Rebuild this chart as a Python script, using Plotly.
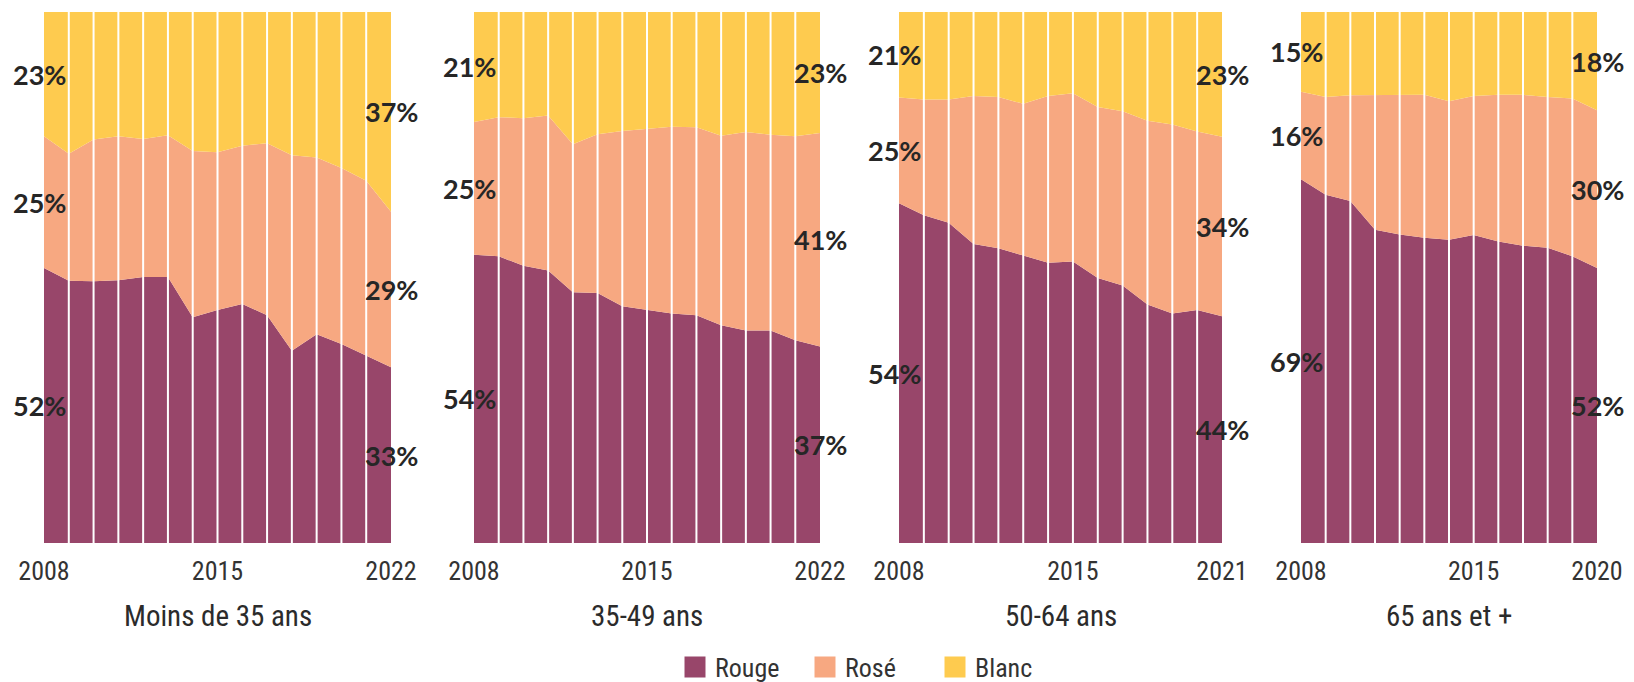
import plotly.graph_objects as go

# ---------------- data (shares in %) ----------------
panel_titles = ["Moins de 35 ans", "35-49 ans", "50-64 ans", "65 ans et +"]
series_names = ["Rouge", "Rosé", "Blanc"]

years_1 = list(range(2008, 2023))
rouge_1 = [51.8, 49.4, 49.3, 49.5, 50.1, 50.1, 42.5, 43.9, 45.0, 42.9, 36.2, 39.3, 37.5, 35.3, 33.1]
rose_1 = [24.8, 23.9, 26.7, 27.1, 26.0, 26.7, 31.3, 29.7, 29.8, 32.4, 36.8, 33.3, 33.1, 32.9, 29.3]
blanc_1 = [23.4, 26.7, 24.0, 23.4, 23.9, 23.2, 26.2, 26.4, 25.2, 24.7, 27.0, 27.4, 29.4, 31.8, 37.6]

years_2 = list(range(2008, 2023))
rouge_2 = [54.3, 54.0, 52.2, 51.3, 47.2, 47.1, 44.6, 43.9, 43.2, 42.9, 41.0, 40.0, 40.0, 38.2, 37.0]
rose_2 = [25.0, 26.2, 27.8, 29.2, 27.9, 29.9, 33.0, 34.1, 35.2, 35.4, 35.7, 37.4, 36.9, 38.4, 40.2]
blanc_2 = [20.7, 19.8, 20.0, 19.5, 24.9, 23.0, 22.4, 22.0, 21.6, 21.7, 23.3, 22.6, 23.1, 23.4, 22.8]

years_3 = list(range(2008, 2022))
rouge_3 = [64.0, 61.7, 60.3, 56.3, 55.5, 54.2, 52.8, 53.0, 49.9, 48.5, 44.9, 43.2, 43.9, 42.7]
rose_3 = [19.9, 21.8, 23.2, 27.9, 28.5, 28.5, 31.4, 31.7, 32.2, 32.8, 34.6, 35.6, 33.6, 33.8]
blanc_3 = [16.1, 16.5, 16.5, 15.8, 16.0, 17.3, 15.8, 15.3, 17.9, 18.7, 20.5, 21.2, 22.5, 23.5]

years_4 = list(range(2008, 2021))
rouge_4 = [68.5, 65.6, 64.4, 59.0, 58.1, 57.5, 57.1, 58.0, 56.8, 56.0, 55.6, 54.0, 51.8]
rose_4 = [16.5, 18.4, 19.9, 25.3, 26.2, 26.9, 26.1, 26.2, 27.6, 28.4, 28.4, 29.7, 29.7]
blanc_4 = [15.0, 16.0, 15.7, 15.7, 15.7, 15.6, 16.8, 15.8, 15.6, 15.6, 16.0, 16.3, 18.5]

# printed labels (Rouge, Rosé, Blanc) for first and last year
first_labels = [["52%", "25%", "23%"], ["54%", "25%", "21%"], ["54%", "25%", "21%"], ["69%", "16%", "15%"]]
last_labels = [["33%", "29%", "37%"], ["37%", "41%", "23%"], ["44%", "34%", "23%"], ["52%", "30%", "18%"]]

panels = [
    (years_1, rouge_1, rose_1, blanc_1),
    (years_2, rouge_2, rose_2, blanc_2),
    (years_3, rouge_3, rose_3, blanc_3),
    (years_4, rouge_4, rose_4, blanc_4),
]

# ---------------- style ----------------
colors = ["#98466A", "#F7A881", "#FECB4F"]
W, H = 1634, 682
x_px = [(44, 391), (474, 820), (899, 1222), (1301, 1597)]
top_px, bot_px = 12, 543
cond_font = "Liberation Sans Narrow, Roboto Condensed, Arial Narrow, DejaVu Sans Condensed, sans-serif"
label_font = "Lato, Roboto, sans-serif"

fig = go.Figure()
layout = dict(
    width=W, height=H,
    margin=dict(l=0, r=0, t=0, b=0, autoexpand=False),
    paper_bgcolor="white", plot_bgcolor="white",
    showlegend=True,
)
shapes = []
annotations = []

for i, (yrs, r, ro, b) in enumerate(panels):
    n = i + 1
    xa = "x" if n == 1 else f"x{n}"
    ya = "y" if n == 1 else f"y{n}"
    for s, vals in enumerate([r, ro, b]):
        fig.add_trace(go.Scatter(
            x=yrs, y=vals, mode="lines", stackgroup=f"g{n}",
            line=dict(width=0, color=colors[s]), fillcolor=colors[s],
            name=series_names[s], showlegend=False, hoverinfo="skip",
            xaxis=xa, yaxis=ya,
        ))
    x0, x1 = x_px[i]
    layout[f"xaxis{'' if n == 1 else n}"] = dict(
        domain=[x0 / W, x1 / W], anchor=ya, range=[yrs[0], yrs[-1]],
        tickvals=[yrs[0], 2015, yrs[-1]], ticktext=[str(yrs[0]), "2015", str(yrs[-1])],
        showgrid=False, zeroline=False, showline=False, ticks="",
        ticklabelstandoff=10,
        tickfont=dict(family=cond_font, size=26, color="#333333"),
        fixedrange=True,
    )
    layout[f"yaxis{'' if n == 1 else n}"] = dict(
        domain=[1 - bot_px / H, 1 - top_px / H], anchor=xa, range=[0, 100],
        visible=False, fixedrange=True,
    )
    # white vertical separators at each interior year
    for yv in yrs[1:-1]:
        shapes.append(dict(type="line", xref=xa, yref=f"{ya} domain", x0=yv, x1=yv, y0=0, y1=1,
                           line=dict(color="white", width=2), layer="above"))
    # percentage labels at band midpoints
    for idx, shift, labels in [(0, -5, first_labels[i]), (-1, 0, last_labels[i])]:
        bounds = [0, r[idx], r[idx] + ro[idx], r[idx] + ro[idx] + b[idx]]
        for s in range(3):
            annotations.append(dict(
                x=yrs[idx], y=(bounds[s] + bounds[s + 1]) / 2, xref=xa, yref=ya,
                text=f"<b>{labels[s]}</b>", showarrow=False, xanchor="center", yanchor="middle",
                xshift=shift, font=dict(family=label_font, size=27, color="#262626"),
            ))
    # panel title
    annotations.append(dict(
        x=(x0 + x1) / 2 / W, y=1 - 616 / H, xref="paper", yref="paper",
        text=panel_titles[i], showarrow=False, xanchor="center", yanchor="middle",
        font=dict(family=cond_font, size=29, color="#2b2b2b"),
    ))

# legend entries
for s in range(3):
    fig.add_trace(go.Scatter(
        x=[None], y=[None], mode="markers", name=series_names[s],
        marker=dict(symbol="square", size=16, color=colors[s], line=dict(color=colors[s], width=5)),
        showlegend=True, hoverinfo="skip",
    ))

layout["legend"] = dict(
    orientation="h", x=870 / W, y=1 - 667 / H, xanchor="center", yanchor="middle",
    font=dict(family=cond_font, size=26, color="#333333"), traceorder="normal",
    entrywidth=85, entrywidthmode="pixels", bgcolor="rgba(0,0,0,0)",
)
layout["shapes"] = shapes
layout["annotations"] = annotations
fig.update_layout(**layout)

fig.write_html(
    "out.html",
    config={"displayModeBar": False, "staticPlot": False},
    post_script="document.body.style.margin='0';document.body.style.overflow='hidden';",
)
